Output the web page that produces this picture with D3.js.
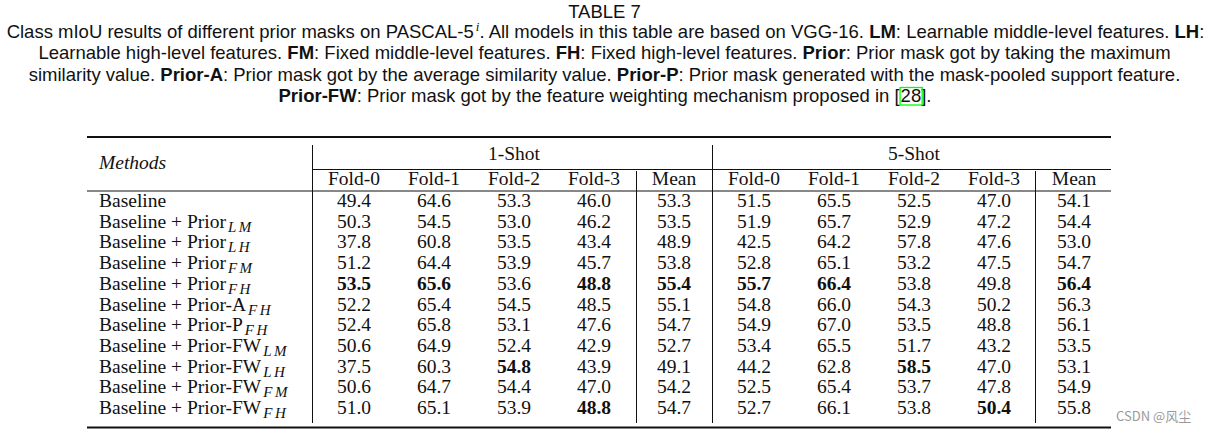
<!DOCTYPE html>
<html>
<head>
<meta charset="utf-8">
<script src="https://cdn.jsdelivr.net/npm/d3@7"></script>
<style>
  html, body { margin: 0; padding: 0; background: #fff; }
  svg { display: block; }
</style>
</head>
<body>
<svg id="chart" width="1209" height="434"></svg>
<script>
// ---------- DATA ----------
const title = "TABLE 7";
const captionLines = [
  [["Class mIoU results of different prior masks on PASCAL-5", 0], ["i", 2], [". All models in this table are based on VGG-16. ", 0], ["LM", 1], [": Learnable middle-level features. ", 0], ["LH", 1], [":", 0]],
  [["Learnable high-level features. ", 0], ["FM", 1], [": Fixed middle-level features. ", 0], ["FH", 1], [": Fixed high-level features. ", 0], ["Prior", 1], [": Prior mask got by taking the maximum", 0]],
  [["similarity value. ", 0], ["Prior-A", 1], [": Prior mask got by the average similarity value. ", 0], ["Prior-P", 1], [": Prior mask generated with the mask-pooled support feature.", 0]],
  [["Prior-FW", 1], [": Prior mask got by the feature weighting mechanism proposed in [", 0], ["28", 3], ["].", 0]]
];
const groups = ["1-Shot", "5-Shot"];
const folds = ["Fold-0", "Fold-1", "Fold-2", "Fold-3", "Mean"];
const methodBase = [
  "Baseline",
  "Baseline + Prior", "Baseline + Prior", "Baseline + Prior", "Baseline + Prior",
  "Baseline + Prior-A", "Baseline + Prior-P",
  "Baseline + Prior-FW", "Baseline + Prior-FW", "Baseline + Prior-FW", "Baseline + Prior-FW"
];
const methodSub = ["", "LM", "LH", "FM", "FH", "FH", "FH", "LM", "LH", "FM", "FH"];
const oneShot = [
  [49.4, 64.6, 53.3, 46.0, 53.3],
  [50.3, 54.5, 53.0, 46.2, 53.5],
  [37.8, 60.8, 53.5, 43.4, 48.9],
  [51.2, 64.4, 53.9, 45.7, 53.8],
  [53.5, 65.6, 53.6, 48.8, 55.4],
  [52.2, 65.4, 54.5, 48.5, 55.1],
  [52.4, 65.8, 53.1, 47.6, 54.7],
  [50.6, 64.9, 52.4, 42.9, 52.7],
  [37.5, 60.3, 54.8, 43.9, 49.1],
  [50.6, 64.7, 54.4, 47.0, 54.2],
  [51.0, 65.1, 53.9, 48.8, 54.7]
];
const fiveShot = [
  [51.5, 65.5, 52.5, 47.0, 54.1],
  [51.9, 65.7, 52.9, 47.2, 54.4],
  [42.5, 64.2, 57.8, 47.6, 53.0],
  [52.8, 65.1, 53.2, 47.5, 54.7],
  [55.7, 66.4, 53.8, 49.8, 56.4],
  [54.8, 66.0, 54.3, 50.2, 56.3],
  [54.9, 67.0, 53.5, 48.8, 56.1],
  [53.4, 65.5, 51.7, 43.2, 53.5],
  [44.2, 62.8, 58.5, 47.0, 53.1],
  [52.5, 65.4, 53.7, 47.8, 54.9],
  [52.7, 66.1, 53.8, 50.4, 55.8]
];
// [row, column index 0..9] of bold cells
const boldCells = [[4,0],[4,1],[4,3],[4,4],[4,5],[4,6],[4,9],[8,2],[8,7],[10,3],[10,8]];
const watermark = "CSDN @风尘";

// ---------- LAYOUT ----------
const svg = d3.select("#chart");
const cx = 604.5;
const serif = "'Liberation Serif', 'Times New Roman', serif";
const sans = "'Liberation Sans', Arial, sans-serif";
const tableLeft = 87, tableRight = 1111;
const capSize = 18.5, bodySize = 19.5;

// caption
svg.append("text").attr("x", cx).attr("y", 18).attr("text-anchor", "middle")
  .attr("font-family", sans).attr("font-size", capSize).attr("fill", "#111").text(title);

const capBase = [38, 59, 80.5, 102];
captionLines.forEach((segs, li) => {
  const t = svg.append("text").attr("y", capBase[li]).attr("font-family", sans)
    .attr("font-size", capSize).attr("fill", "#111");
  segs.forEach(([s, kind], i) => {
    const ts = t.append("tspan").text(s);
    if (kind === 1) ts.attr("font-weight", "bold");
    if (kind === 2) ts.attr("font-style", "italic").attr("font-family", serif)
      .attr("font-size", 13).attr("dy", -7).attr("dx", 2);
    if (kind === 3) ts.attr("dx", 1);
    if (i > 0 && segs[i - 1][1] === 2) ts.attr("dy", 7);
  });
  const len = t.node().getComputedTextLength();
  const x0 = cx - len / 2;
  t.attr("x", x0);
  const idx = segs.findIndex(s => s[1] === 3);
  if (idx >= 0) {
    let start = 0;
    for (let k = 0; k < idx; k++) start += segs[k][0].length;
    const off = t.node().getSubStringLength(0, start);
    const w = t.node().getSubStringLength(start, segs[idx][0].length);
    svg.append("rect").attr("x", x0 + off + 0.5).attr("y", capBase[li] - 14.5)
      .attr("width", w + 1.5).attr("height", 17.5)
      .attr("fill", "none").attr("stroke", "#00ff00").attr("stroke-width", 1.3);
  }
});

// scales
const colKeys = d3.range(10);
const x = d3.scalePoint().domain(colKeys).range([354, 1074]);
const y = d3.scalePoint().domain(d3.range(methodBase.length)).range([207, 414]);

// rules
const line = (x1, y1, x2, y2, w) => svg.append("line")
  .attr("x1", x1).attr("y1", y1).attr("x2", x2).attr("y2", y2)
  .attr("stroke", "#111").attr("stroke-width", w);
line(tableLeft, 137, tableRight, 137, 2);
line(313, 169.5, tableRight, 169.5, 1);
line(tableLeft, 191, tableRight, 191, 1);
line(tableLeft, 427.5, tableRight, 427.5, 2);
const step = x(1) - x(0);
line(312.5, 145, 312.5, 423, 1);
line(x(4) + step / 2 - 1.5, 145, x(4) + step / 2 - 1.5, 423, 1);
line(x(3) + step / 2 + 2.5, 171, x(3) + step / 2 + 2.5, 423, 1);
line(x(8) + step / 2 + 1.5, 171, x(8) + step / 2 + 1.5, 423, 1);

// header
svg.append("text").attr("x", 99).attr("y", 169).attr("font-family", serif)
  .attr("font-style", "italic").attr("font-size", bodySize).attr("fill", "#111").text("Methods");
groups.forEach((g, gi) => {
  svg.append("text").attr("x", (x(gi * 5) + x(gi * 5 + 4)) / 2).attr("y", 160)
    .attr("text-anchor", "middle").attr("font-family", serif).attr("font-size", bodySize)
    .attr("fill", "#111").text(g);
});
colKeys.forEach(c => {
  svg.append("text").attr("x", x(c)).attr("y", 185).attr("text-anchor", "middle")
    .attr("font-family", serif).attr("font-size", bodySize).attr("fill", "#111")
    .text(folds[c % 5]);
});

// method labels (base text + separate italic subscript)
methodBase.forEach((m, i) => {
  const t = svg.append("text").attr("x", 99).attr("y", y(i)).attr("font-family", serif)
    .attr("font-size", bodySize).attr("fill", "#111").text(m);
  if (methodSub[i]) {
    const len = t.node().getComputedTextLength();
    svg.append("text").attr("x", 99 + len + 2).attr("y", y(i) + 4)
      .attr("font-family", serif).attr("font-style", "italic")
      .attr("font-size", 15).attr("letter-spacing", 2.5).attr("fill", "#111")
      .text(methodSub[i]);
  }
});

// values
const isBold = (r, c) => boldCells.some(b => b[0] === r && b[1] === c);
const cells = [];
oneShot.forEach((row, r) => row.forEach((v, c) => cells.push({r, c, v})));
fiveShot.forEach((row, r) => row.forEach((v, c) => cells.push({r, c: c + 5, v})));
svg.selectAll("text.val").data(cells).join("text").attr("class", "val")
  .attr("x", d => x(d.c)).attr("y", d => y(d.r)).attr("text-anchor", "middle")
  .attr("font-family", serif).attr("font-size", bodySize).attr("fill", "#111")
  .attr("font-weight", d => isBold(d.r, d.c) ? "bold" : "normal")
  .text(d => d.v.toFixed(1));

// watermark
svg.append("text").attr("x", 1116).attr("y", 421).attr("font-family", "'Noto Sans CJK SC', sans-serif")
  .attr("font-size", 13).attr("fill", "#9a9a9a").text(watermark);
</script>
</body>
</html>
